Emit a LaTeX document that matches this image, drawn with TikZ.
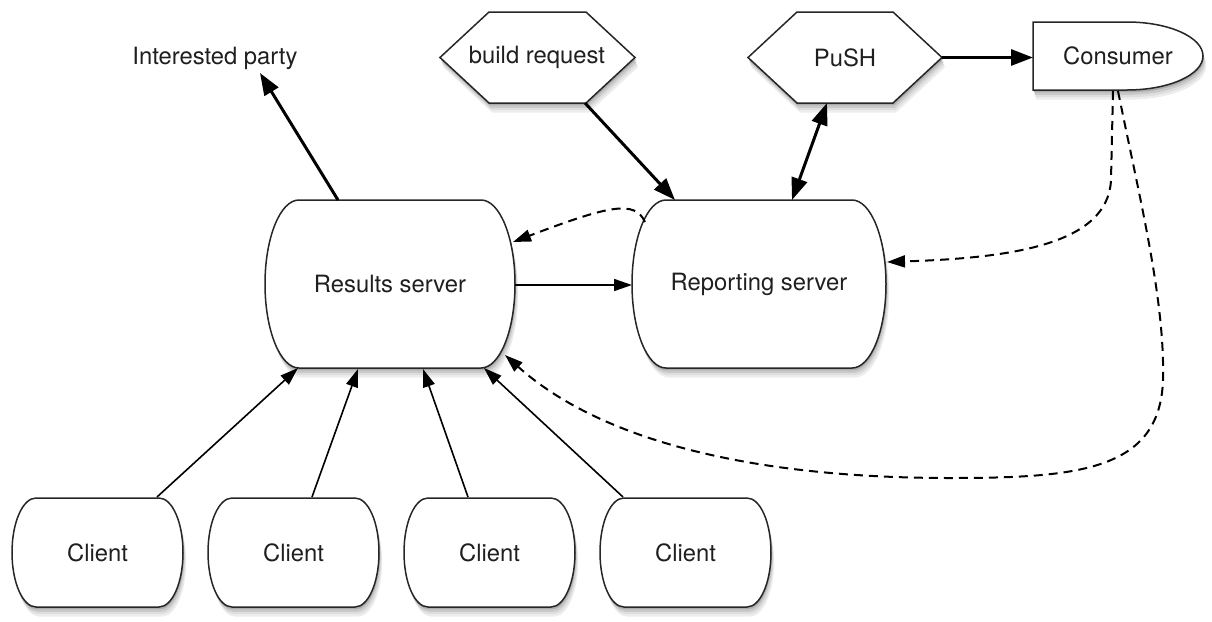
\documentclass[tikz,border=0pt]{standalone}
\usepackage{fontspec}
\setmainfont{TeX Gyre Heros}
\usetikzlibrary{arrows.meta,calc}
\newcommand\shlayers{4/7,3/13,2/21,1/32}
\newcommand\storshape[6]{% L T R B rx ry
  \foreach \d/\c in \shlayers {
    \fill[fill=black!\c, xshift=0.4*\d pt, yshift=-1.2*\d pt] (#1+#5,#2) -- (#3-#5,#2)
      arc[start angle=-90,end angle=90,x radius=#5,y radius=#6]
      -- (#1+#5,#4) arc[start angle=90,end angle=270,x radius=#5,y radius=#6] -- cycle;}
  \draw[shp] (#1+#5,#2) -- (#3-#5,#2)
      arc[start angle=-90,end angle=90,x radius=#5,y radius=#6]
      -- (#1+#5,#4) arc[start angle=90,end angle=270,x radius=#5,y radius=#6] -- cycle;}
\newcommand\hexshape[5]{% L R inset T B
  \foreach \d/\c in \shlayers {
    \fill[fill=black!\c, xshift=0.4*\d pt, yshift=-1.2*\d pt] (#1,#4/2+#5/2) -- (#1+#3,#4) -- (#2-#3,#4)
      -- (#2,#4/2+#5/2) -- (#2-#3,#5) -- (#1+#3,#5) -- cycle;}
  \draw[shp] (#1,#4/2+#5/2) -- (#1+#3,#4) -- (#2-#3,#4)
      -- (#2,#4/2+#5/2) -- (#2-#3,#5) -- (#1+#3,#5) -- cycle;}
\newcommand\delayshape[5]{% L T flatend B rx
  \foreach \d/\c in \shlayers {
    \fill[fill=black!\c, xshift=0.4*\d pt, yshift=-1.2*\d pt] (#1,#2) -- (#3,#2)
      arc[start angle=-90,end angle=90,x radius=#5,y radius={(#4-#2)/2}] -- (#1,#4) -- cycle;}
  \draw[shp] (#1,#2) -- (#3,#2)
      arc[start angle=-90,end angle=90,x radius=#5,y radius={(#4-#2)/2}] -- (#1,#4) -- cycle;}
\begin{document}
\begin{tikzpicture}[x=0.5pt,y=-0.5pt,
  lbl/.style={font=\fontsize{11.9}{14}\selectfont, text=black!88, inner sep=0pt},
  shp/.style={draw=black!85, line width=0.75pt, fill=white},
  thickarr/.style={line width=1.5pt, -{Triangle[length=11pt,width=8pt]}},
  thickboth/.style={line width=1.5pt, {Triangle[length=11pt,width=8pt]}-{Triangle[length=11pt,width=8pt]}},
  thinarr/.style={line width=0.8pt, -{Triangle[length=9pt,width=6pt]}},
  dsharr/.style={line width=1pt, dash pattern=on 4.5pt off 3pt, -{Triangle[length=9pt,width=6pt]}}]
\useasboundingbox (0,0) rectangle (1212,622);

% storage shapes
\storshape{265}{200}{515}{368}{34}{84}
\storshape{632}{200}{886}{368}{34}{84}
\foreach \L in {12,208,404,600}{
  \storshape{\L}{498}{\L+171}{607}{24}{54.5}
}
% hexagons
\hexshape{440}{635}{49}{12}{103}
\hexshape{748}{942}{49}{12}{103}
% consumer
\delayshape{1033}{22}{1127}{90}{76}

% labels
\node[lbl] (ip) at (215,58) {Interested party};
\node[lbl] (br) at (537,57.5) {build request};
\node[lbl] (push) at (845,57.5) {PuSH};
\node[lbl] (con) at (1118,56) {Consumer};
\node[lbl] (rs) at (390,284) {Results server};
\node[lbl] (rp) at (759,284) {Reporting server};
\node[lbl] (c1) at (97.5,552.5) {Client};
\node[lbl] (c2) at (293.5,552.5) {Client};
\node[lbl] (c3) at (489.5,552.5) {Client};
\node[lbl] (c4) at (685.5,552.5) {Client};

% thick connectors
\draw[thickarr] ([shift={(-52,-84)}]rs.center) -- ([shift={(45,15)}]ip.center);
\draw[thickarr] ([shift={(48,45.5)}]br.center) -- ([shift={(-84,-84)}]rp.center);
\draw[thickboth] ([shift={(33,-84)}]rp.center) -- ([shift={(-18,45.5)}]push.center);
\draw[thickarr] ([shift={(97,0)}]push.center) -- ([shift={(-85,1.5)}]con.center);

% thin connectors
\draw[thinarr] ([shift={(125,1)}]rs.center) -- ([shift={(-127,1)}]rp.center);
\draw[thinarr] ([shift={(59.5,-55.5)}]c1.center) -- ([shift={(-92,84)}]rs.center);
\draw[thinarr] ([shift={(18.5,-55.5)}]c2.center) -- ([shift={(-32,85)}]rs.center);
\draw[thinarr] ([shift={(-21.5,-55.5)}]c3.center) -- ([shift={(33,85)}]rs.center);
\draw[thinarr] ([shift={(-62.5,-55.5)}]c4.center) -- ([shift={(94,84)}]rs.center);

% dashed connectors
\draw[dsharr] ([shift={(-114,-62)}]rp.center) .. controls ([shift={(-124,-84)}]rp.center)
  and ([shift={(-149,-79)}]rp.center) .. ([shift={(123,-42)}]rs.center);
\draw[dsharr] ([shift={(-5,35)}]con.center) -- ([shift={(-7,124)}]con.center)
  .. controls ([shift={(-10,189)}]con.center) and ([shift={(-108,202)}]con.center)
  .. ([shift={(128,-22)}]rp.center);
\draw[dsharr] ([shift={(0,35)}]con.center) .. controls ([shift={(22,144)}]con.center)
  and ([shift={(47,244)}]con.center) .. ([shift={(45,324)}]con.center)
  .. controls ([shift={(42,414)}]con.center) and ([shift={(-38,422)}]con.center)
  .. ([shift={(-168,422)}]con.center)
  .. controls ([shift={(-368,422)}]con.center) and ([shift={(-518,384)}]con.center)
  .. ([shift={(115,71)}]rs.center);
\end{tikzpicture}
\end{document}
